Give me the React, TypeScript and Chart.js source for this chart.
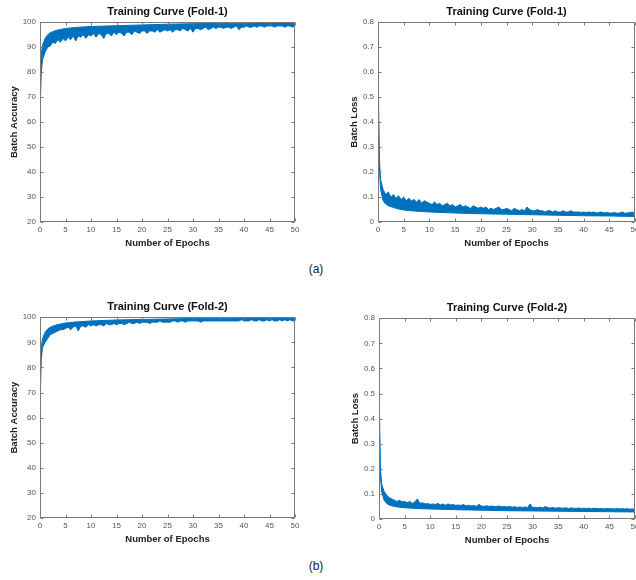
import React, { useEffect, useRef } from "react";
import { Chart, registerables } from "chart.js";

Chart.register(...registerables);

const FONT = "'Liberation Sans', Arial, Helvetica, sans-serif";
const BLUE = "#0072BD";

// Epoch positions of the smooth envelope
const smoothEpochs = [0, 0.1, 0.25, 0.5, 1, 1.5, 2, 3, 4, 5, 7, 10, 15, 20, 25, 30, 35, 40, 45, 50];

// Epoch positions of the jagged envelope
const jaggedEpochs = [
  0, 0.1, 0.25, 0.5, 1, 1.5, 2, 2.5, 3, 3.5, 4, 4.5, 5, 5.5, 6, 6.5, 7, 7.5, 8, 8.5, 9, 9.5, 10,
  10.5, 11, 11.5, 12, 12.5, 13, 13.5, 14, 14.5, 15, 15.5, 16, 16.5, 17, 17.5, 18, 18.5, 19, 19.5, 20,
  20.5, 21, 21.5, 22, 22.5, 23, 23.5, 24, 24.5, 25, 25.5, 26, 26.5, 27, 27.5, 28, 28.5, 29, 29.5, 30,
  30.5, 31, 31.5, 32, 32.5, 33, 33.5, 34, 34.5, 35, 35.5, 36, 36.5, 37, 37.5, 38, 38.5, 39, 39.5, 40,
  40.5, 41, 41.5, 42, 42.5, 43, 43.5, 44, 44.5, 45, 45.5, 46, 46.5, 47, 47.5, 48, 48.5, 49, 49.5, 50,
];

// Fold-1 accuracy: upper (smooth) and lower (jagged) edges of the band
const fold1AccUpper = [20, 80, 87, 91, 93.5, 95, 95.8, 96.6, 97.1, 97.5, 97.9, 98.3, 98.6, 98.9, 99.2, 99.4, 99.5, 99.6, 99.8, 99.9];
const fold1AccLower = [
  20, 70, 80, 85,
  88, 90, 90.5, 92, 91.5, 93, 92, 93.5, 92.5,
  94, 93, 94.5, 92.5, 94.5, 94, 95, 93.5, 95, 94.5,
  95.5, 94, 95.5, 95, 93.5, 95.5, 95.5, 94.5, 96, 95,
  96, 95.5, 94.5, 96, 96, 95, 96.5, 96, 95.5, 96.5,
  96.5, 95.5, 96.5, 96.5, 96, 97, 96, 96.5, 97, 96.5,
  97, 96, 97, 97, 96.5, 97.5, 97, 96.5, 97.5, 96,
  97.5, 97.5, 97, 97.5, 98, 97, 97.5, 98, 97.5, 98,
  98, 97.5, 98, 98, 97.5, 98, 98.5, 97, 98, 98,
  98.5, 98, 98, 98.5, 98, 98.5, 98.5, 98, 98.5, 98.5,
  98.5, 98, 98.5, 98.5, 98.5, 98, 98.5, 98.5, 98, 98.5,
];

// Fold-1 loss: lower (smooth) and upper (jagged) edges of the band
const fold1LossLower = [0.8, 0.42, 0.22, 0.13, 0.085, 0.072, 0.065, 0.058, 0.052, 0.048, 0.044, 0.04, 0.036, 0.033, 0.031, 0.029, 0.027, 0.025, 0.024, 0.022];
const fold1LossUpper = [
  0.8, 0.5, 0.26, 0.17,
  0.13, 0.11, 0.12, 0.1, 0.11, 0.095, 0.105, 0.09, 0.1,
  0.085, 0.095, 0.085, 0.09, 0.08, 0.09, 0.075, 0.085, 0.08, 0.075,
  0.07, 0.08, 0.07, 0.075, 0.065, 0.07, 0.075, 0.065, 0.07, 0.06,
  0.065, 0.07, 0.06, 0.065, 0.06, 0.055, 0.065, 0.06, 0.055, 0.06,
  0.055, 0.06, 0.05, 0.055, 0.05, 0.055, 0.06, 0.05, 0.05, 0.055,
  0.05, 0.045, 0.055, 0.05, 0.045, 0.05, 0.045, 0.06, 0.05, 0.045,
  0.045, 0.05, 0.045, 0.045, 0.04, 0.045, 0.045, 0.04, 0.045, 0.04,
  0.04, 0.045, 0.04, 0.04, 0.045, 0.04, 0.04, 0.04, 0.038, 0.04,
  0.038, 0.04, 0.038, 0.04, 0.036, 0.038, 0.04, 0.036, 0.038, 0.036,
  0.036, 0.038, 0.035, 0.036, 0.04, 0.035, 0.036, 0.038, 0.04, 0.034,
];

// Fold-2 accuracy
const fold2AccUpper = [20, 80, 88, 91.5, 94, 95.3, 96, 96.8, 97.3, 97.7, 98.1, 98.5, 98.9, 99.1, 99.3, 99.5, 99.6, 99.7, 99.8, 99.9];
const fold2AccLower = [
  20, 72, 83, 88,
  90, 91.5, 93, 93.5, 94, 94.5, 95, 95, 95.5,
  96, 95, 96, 96.5, 94.5, 96.5, 96.5, 96, 97, 96.5,
  97, 96.5, 97, 97, 96.5, 97.5, 97, 97, 97.5, 97,
  97.5, 97.5, 97, 97.5, 98, 97.5, 97.5, 98, 97.5, 98,
  98, 98, 97.5, 98, 98, 98, 98.5, 98, 98, 98,
  98, 98.5, 98.5, 98, 98.5, 98.5, 98, 98.5, 98.5, 98.5,
  98.5, 98.5, 98, 98.5, 98.5, 98.5, 98.5, 98.5, 98.5, 98.5,
  98.5, 98.5, 98.5, 98.5, 98.5, 98.5, 98.5, 98.5, 99, 98.5,
  98.5, 98.5, 99, 98.5, 98.5, 99, 98.5, 98.5, 99, 98.5,
  99, 98.5, 98.5, 99, 98.5, 99, 98.5, 99, 98.5, 98.5,
];

// Fold-2 loss
const fold2LossLower = [0.8, 0.35, 0.18, 0.11, 0.075, 0.062, 0.056, 0.05, 0.047, 0.045, 0.042, 0.04, 0.037, 0.035, 0.033, 0.032, 0.031, 0.03, 0.029, 0.028];
const fold2LossUpper = [
  0.8, 0.42, 0.22, 0.14,
  0.11, 0.095, 0.085, 0.08, 0.075, 0.07, 0.075, 0.068, 0.07,
  0.065, 0.07, 0.062, 0.068, 0.08, 0.062, 0.065, 0.06, 0.062, 0.058,
  0.06, 0.058, 0.062, 0.056, 0.06, 0.055, 0.06, 0.056, 0.058, 0.054,
  0.056, 0.054, 0.058, 0.052, 0.055, 0.052, 0.054, 0.05, 0.058, 0.052,
  0.05, 0.053, 0.05, 0.052, 0.049, 0.05, 0.052, 0.048, 0.05, 0.048,
  0.05, 0.047, 0.049, 0.046, 0.048, 0.046, 0.048, 0.045, 0.06, 0.046,
  0.046, 0.045, 0.047, 0.044, 0.05, 0.045, 0.044, 0.046, 0.043, 0.045,
  0.044, 0.043, 0.045, 0.042, 0.044, 0.043, 0.042, 0.044, 0.042, 0.043,
  0.042, 0.043, 0.041, 0.043, 0.042, 0.041, 0.042, 0.04, 0.042, 0.041,
  0.041, 0.04, 0.042, 0.04, 0.041, 0.04, 0.041, 0.039, 0.04, 0.04,
];

const framePlugin = {
  id: "matlabFrame",
  afterDraw(chart: any) {
    const { ctx, chartArea: a, scales } = chart;
    ctx.save();
    ctx.strokeStyle = "#7a7a7a";
    ctx.lineWidth = 1;
    const L = Math.round(a.left) + 0.5;
    const R = Math.round(a.right) - 0.5;
    const T = Math.round(a.top) + 0.5;
    const B = Math.round(a.bottom) - 0.5;
    ctx.strokeRect(L, T, R - L, B - T);
    ctx.beginPath();
    scales.x.ticks.forEach((t: any) => {
      const px = Math.round(scales.x.getPixelForValue(t.value)) + 0.5;
      ctx.moveTo(px, B);
      ctx.lineTo(px, B - 3);
      ctx.moveTo(px, T);
      ctx.lineTo(px, T + 3);
    });
    scales.y.ticks.forEach((t: any) => {
      const py = Math.round(scales.y.getPixelForValue(t.value)) + 0.5;
      ctx.moveTo(L, py);
      ctx.lineTo(L + 3, py);
      ctx.moveTo(R, py);
      ctx.lineTo(R - 3, py);
    });
    ctx.stroke();
    ctx.restore();
  },
};

type PanelProps = {
  left: number;
  top: number;
  width: number;
  height: number;
  yAxisWidth: number;
  padRight: number;
  title: string;
  yTitle: string;
  yMin: number;
  yMax: number;
  yStep: number;
  smooth: number[];
  jagged: number[];
};

function Panel(p: PanelProps) {
  const ref = useRef<HTMLCanvasElement | null>(null);
  useEffect(() => {
    if (!ref.current) return;
    const smoothData = smoothEpochs.map((x, i) => ({ x, y: p.smooth[i] }));
    const jaggedData = jaggedEpochs.map((x, i) => ({ x, y: p.jagged[i] }));
    const chart = new Chart(ref.current, {
      type: "line",
      data: {
        datasets: [
          {
            data: smoothData,
            borderColor: BLUE,
            borderWidth: 1,
            pointRadius: 0,
            fill: false,
            tension: 0,
          },
          {
            data: jaggedData,
            borderColor: BLUE,
            borderWidth: 1,
            pointRadius: 0,
            backgroundColor: BLUE,
            fill: "-1",
            tension: 0,
          },
        ],
      },
      options: {
        responsive: false,
        animation: false,
        events: [],
        layout: { padding: { left: 0, right: p.padRight, top: 0, bottom: 0 } },
        plugins: {
          legend: { display: false },
          tooltip: { enabled: false },
          title: {
            display: true,
            text: p.title,
            fullSize: false,
            color: "#111111",
            font: { family: FONT, size: 11, weight: "bold" },
            padding: { top: 5, bottom: 4 },
          },
        },
        scales: {
          x: {
            type: "linear",
            min: 0,
            max: 50,
            grid: { display: false, drawTicks: false },
            border: { display: false },
            ticks: {
              stepSize: 5,
              autoSkip: false,
              maxRotation: 0,
              padding: 3,
              color: "#555555",
              font: { family: FONT, size: 8 },
            },
            title: {
              display: true,
              text: "Number of Epochs",
              color: "#222222",
              font: { family: FONT, size: 9.5, weight: "bold" },
              padding: { top: 0, bottom: 11 },
            },
            afterFit: (s: any) => {
              s.height = 38;
            },
          },
          y: {
            type: "linear",
            min: p.yMin,
            max: p.yMax,
            grid: { display: false, drawTicks: false },
            border: { display: false },
            ticks: {
              stepSize: p.yStep,
              autoSkip: false,
              padding: 4,
              color: "#555555",
              font: { family: FONT, size: 8 },
              callback: (v: any) => String(Math.round(Number(v) * 10) / 10),
            },
            title: {
              display: true,
              text: p.yTitle,
              color: "#222222",
              font: { family: FONT, size: 9.5, weight: "bold" },
              padding: { top: 9, bottom: 0 },
            },
            afterFit: (s: any) => {
              s.width = p.yAxisWidth;
            },
          },
        },
      } as any,
      plugins: [framePlugin],
    });
    return () => chart.destroy();
  }, []);
  return (
    <canvas
      ref={ref}
      width={p.width}
      height={p.height}
      style={{ position: "absolute", left: p.left, top: p.top, width: p.width, height: p.height }}
    />
  );
}

export default function App() {
  return (
    <div
      style={{
        position: "absolute",
        left: 0,
        top: 0,
        width: 636,
        height: 580,
        overflow: "hidden",
        background: "#ffffff",
      }}
    >
      <Panel left={0} top={0} width={318} height={260} yAxisWidth={40} padRight={23}
        title="Training Curve (Fold-1)" yTitle="Batch Accuracy" yMin={20} yMax={100} yStep={10}
        smooth={fold1AccUpper} jagged={fold1AccLower} />
      <Panel left={340} top={0} width={308} height={260} yAxisWidth={38} padRight={13}
        title="Training Curve (Fold-1)" yTitle="Batch Loss" yMin={0} yMax={0.8} yStep={0.1}
        smooth={fold1LossLower} jagged={fold1LossUpper} />
      <Panel left={0} top={295} width={318} height={261} yAxisWidth={40} padRight={23}
        title="Training Curve (Fold-2)" yTitle="Batch Accuracy" yMin={20} yMax={100} yStep={10}
        smooth={fold2AccUpper} jagged={fold2AccLower} />
      <Panel left={341} top={296} width={307} height={261} yAxisWidth={38} padRight={13}
        title="Training Curve (Fold-2)" yTitle="Batch Loss" yMin={0} yMax={0.8} yStep={0.1}
        smooth={fold2LossLower} jagged={fold2LossUpper} />
      <div style={{ position: "absolute", left: 296, top: 262, width: 40, textAlign: "center",
        fontFamily: FONT, fontSize: 12, color: "#222" }}>(a)</div>
      <div style={{ position: "absolute", left: 296, top: 559, width: 40, textAlign: "center",
        fontFamily: FONT, fontSize: 12, color: "#222" }}>(b)</div>
    </div>
  );
}
